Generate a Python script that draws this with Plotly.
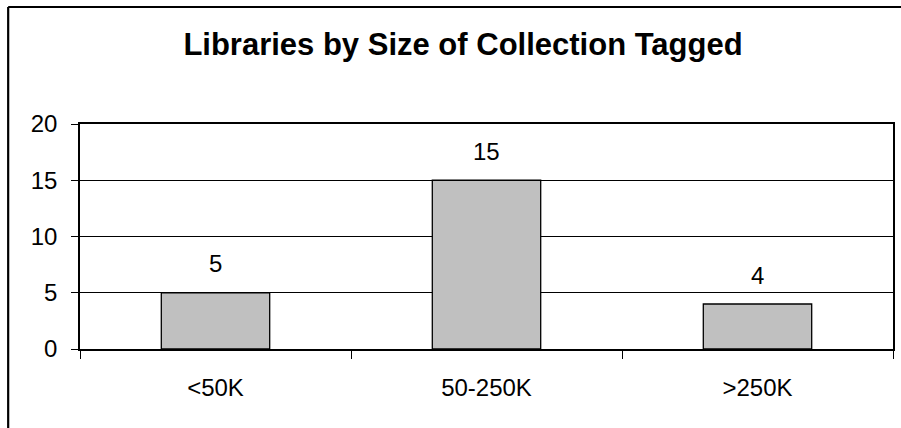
import plotly.graph_objects as go

categories = ["<50K", "50-250K", ">250K"]
values = [5, 15, 4]
y_ticks = [0, 5, 10, 15, 20]
title_text = "Libraries by Size of Collection Tagged"

W, H = 901, 428
L, R, T, B = 80, 6, 124, 79
pw, ph = W - L - R, H - T - B

def px_to_paper_x(px):
    return (px - L) / pw

def py_to_paper_y(py):
    return (H - B - py) / ph

FONT = "Liberation Sans, Arial, sans-serif"

fig = go.Figure()
fig.add_trace(go.Bar(
    x=categories, y=values,
    marker=dict(color="#C0C0C0", line=dict(color="#000000", width=1.3)),
    width=0.4,
    hoverinfo="skip",
))

for c, v in zip(categories, values):
    fig.add_annotation(x=c, y=v, text=str(v), showarrow=False,
                       yanchor="middle", yshift=29,
                       font=dict(family=FONT, size=24, color="#000"))

# chart-area border (left and top visible)
bx = px_to_paper_x(8)
by = py_to_paper_y(7)
fig.add_shape(type="line", xref="paper", yref="paper", x0=bx, x1=bx, y0=py_to_paper_y(440), y1=by,
              line=dict(color="#000", width=2.2))
fig.add_shape(type="line", xref="paper", yref="paper", x0=bx, x1=px_to_paper_x(920), y0=by, y1=by,
              line=dict(color="#000", width=2.2))

fig.update_layout(
    width=W, height=H,
    margin=dict(l=L, r=R, t=T, b=B),
    paper_bgcolor="white", plot_bgcolor="white",
    showlegend=False,
    title=dict(text="<b>" + title_text + "</b>", x=463 / W, xanchor="center",
               y=1 - 44 / H, yanchor="middle",
               font=dict(family=FONT, size=31, color="#000")),
    xaxis=dict(type="category", tickson="boundaries", ticks="outside", ticklen=8,
               tickcolor="#000", tickwidth=1, showgrid=False,
               showline=True, linecolor="#000", linewidth=1.5, mirror=True,
               tickfont=dict(family=FONT, size=24, color="#000"),
               ticklabelstandoff=16, range=[-0.5, 2.5]),
    yaxis=dict(range=[0, 20], tickvals=y_ticks, ticks="outside", ticklen=7,
               tickcolor="#000", tickwidth=1,
               showgrid=True, gridcolor="#000", gridwidth=1,
               showline=True, linecolor="#000", linewidth=1.5, mirror=True,
               zeroline=False,
               tickfont=dict(family=FONT, size=24, color="#000"),
               ticklabelstandoff=9),
)

fig.write_html("out.html")
